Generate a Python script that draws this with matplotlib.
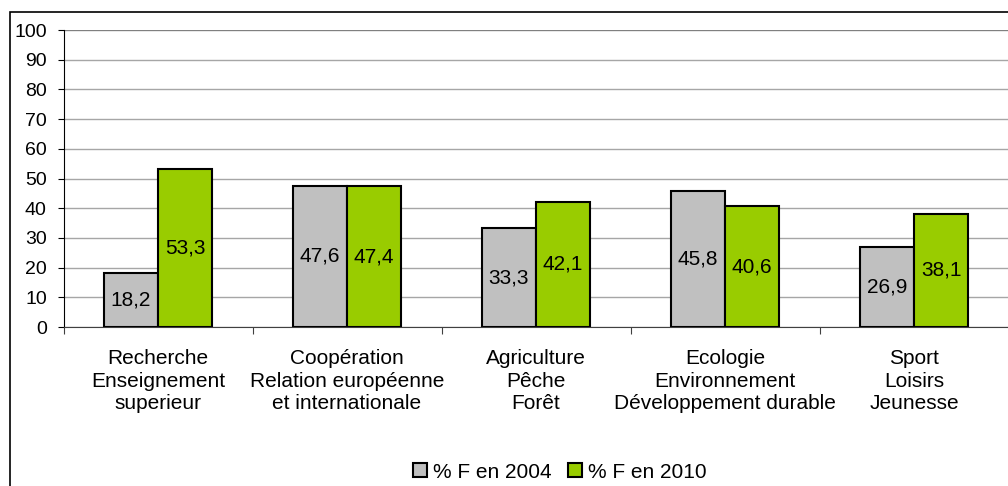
import numpy as np
import matplotlib
matplotlib.use("Agg")
from matplotlib import pyplot as plt
from matplotlib.patches import Rectangle

categories = ["Recherche\nEnseignement\nsuperieur",
              "Coopération\nRelation européenne\net internationale",
              "Agriculture\nPêche\nForêt",
              "Ecologie\nEnvironnement\nDéveloppement durable",
              "Sport\nLoisirs\nJeunesse"]
pct_2004 = [18.2, 47.6, 33.3, 45.8, 26.9]
pct_2010 = [53.3, 47.4, 42.1, 40.6, 38.1]
series_names = ["% F en 2004", "% F en 2010"]
colors = ["#c0c0c0", "#99cc00"]

plt.rcParams["font.family"] = ["Liberation Sans", "DejaVu Sans"]
plt.rcParams["font.size"] = 14

fig = plt.figure(figsize=(10.08, 4.86), dpi=100)
# outer chart border (runs off the right and bottom edge)
fig.patches.append(Rectangle((10 / 1008, -0.1), 1.2, 1 - 12 / 486 + 0.1,
                             transform=fig.transFigure, fill=False,
                             edgecolor="black", linewidth=1.2))

ax = fig.add_axes([63.5 / 1008, 159 / 486, 945 / 1008, 297 / 486])

x = np.arange(len(categories))
w = 0.286
bars1 = ax.bar(x - w / 2, pct_2004, width=w, color=colors[0], edgecolor="black",
               linewidth=1.5, label=series_names[0], zorder=3)
bars2 = ax.bar(x + w / 2, pct_2010, width=w, color=colors[1], edgecolor="black",
               linewidth=1.5, label=series_names[1], zorder=3)

for bars in (bars1, bars2):
    for b in bars:
        h = b.get_height()
        ax.text(b.get_x() + b.get_width() / 2, h / 2, f"{h:.1f}".replace(".", ","),
                ha="center", va="center", fontsize=15, zorder=4)

ax.set_xlim(-0.5, len(categories) - 0.5)
ax.set_ylim(0, 100)
ax.set_yticks(range(0, 101, 10))
ax.yaxis.grid(True, color="#a6a6a6", linewidth=1)
ax.set_axisbelow(True)
ax.axhline(100, color="#808080", linewidth=1.5, zorder=2)

ax.set_xticks(np.arange(len(categories) + 1) - 0.5)
ax.set_xticklabels([])
ax.set_xticks(x, minor=True)
ax.set_xticklabels(categories, minor=True, linespacing=1.22, fontsize=15)
ax.tick_params(axis="x", which="minor", length=0, pad=16)
ax.tick_params(axis="x", which="major", length=5, color="#404040")
ax.tick_params(axis="y", length=4, pad=8, labelsize=14)

for s in ["top", "right"]:
    ax.spines[s].set_visible(False)
ax.spines["left"].set_color("black")
ax.spines["bottom"].set_color("#404040")

fig.legend(handles=[bars1, bars2], labels=series_names, loc="center",
           bbox_to_anchor=(560 / 1008, 1 - 472 / 486), ncol=2, frameon=False,
           handlelength=0.65, handleheight=0.65, handletextpad=0.3,
           columnspacing=0.8, fontsize=15)

fig.savefig("out.png", dpi=100)
